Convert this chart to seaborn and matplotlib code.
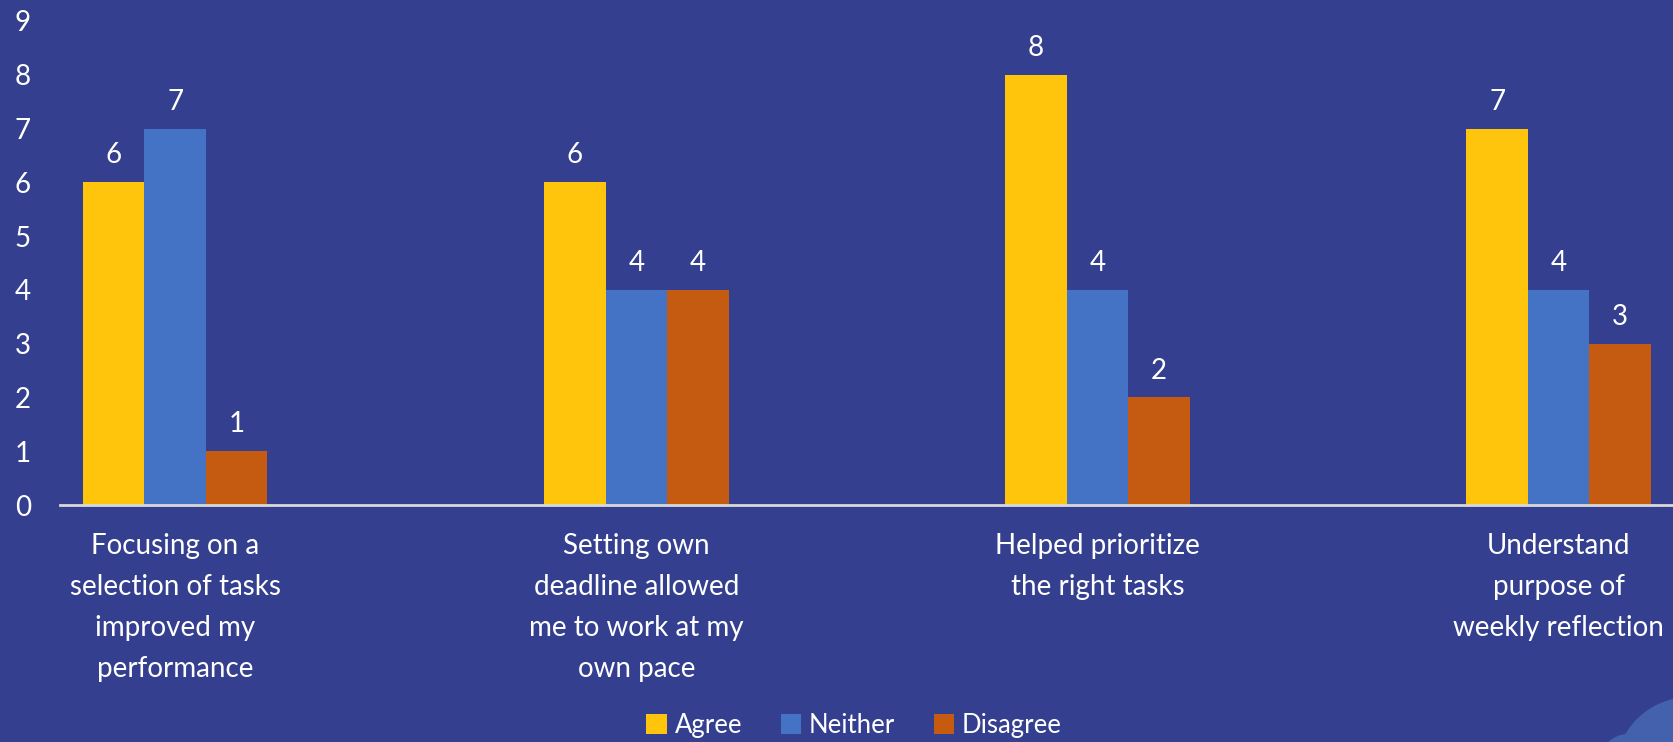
import matplotlib
matplotlib.use("Agg")
import matplotlib.pyplot as plt
from matplotlib.patches import Ellipse
import seaborn as sns
import pandas as pd

categories = [
    "Focusing on a\nselection of tasks\nimproved my\nperformance",
    "Setting own\ndeadline allowed\nme to work at my\nown pace",
    "Helped prioritize\nthe right tasks",
    "Understand\npurpose of\nweekly reflection",
]
series_names = ["Agree", "Neither", "Disagree"]
agree = [6, 6, 8, 7]
neither = [7, 4, 4, 4]
disagree = [1, 4, 2, 3]
y_ticks = [0, 1, 2, 3, 4, 5, 6, 7, 8, 9]

BG = "#343F8F"
colors = ["#FFC40C", "#4472C4", "#C55A11"]

rows = []
for name, vals in zip(series_names, [agree, neither, disagree]):
    for c, v in zip(categories, vals):
        rows.append({"category": c, "series": name, "value": v})
df = pd.DataFrame(rows)

sns.set_theme(style="white")
plt.rcParams["font.family"] = ["Lato", "DejaVu Sans"]

W, H = 1674, 742
fig = plt.figure(figsize=(W / 100, H / 100), dpi=100, facecolor=BG)

# slide decoration in bottom-right corner
for cx, cy, r in [(1690, -30, 75), (1628, -20, 28)]:
    fig.patches.append(Ellipse((cx / W, cy / H), 2 * r / W, 2 * r / H,
                               transform=fig.transFigure, facecolor="#4361AD",
                               edgecolor="none", zorder=0))

ax = fig.add_axes([0.0358, 0.3194, 0.9642, 0.6523])
ax.set_facecolor(BG)
ax.patch.set_alpha(0)

sns.barplot(data=df, x="category", y="value", hue="series",
            palette=colors, width=0.4, gap=0, saturation=1,
            edgecolor="none", linewidth=0, ax=ax, legend=True)

for cont in ax.containers:
    ax.bar_label(cont, padding=10, color="white", fontsize=20)

ax.set_xlim(-0.25, 3.25)
ax.set_ylim(0, 9)
ax.set_yticks(y_ticks)
ax.set_xlabel("")
ax.set_ylabel("")

for s in ["top", "right", "left"]:
    ax.spines[s].set_visible(False)
ax.spines["bottom"].set_color("#D9D9D9")
ax.spines["bottom"].set_linewidth(2)

ax.tick_params(axis="y", length=0, colors="white", labelsize=20, pad=21)
ax.tick_params(axis="x", length=0, colors="white", labelsize=20, pad=20)
for lab in ax.get_xticklabels():
    lab.set_linespacing(1.72)
    lab.set_verticalalignment("top")

leg = ax.legend(loc="center", bbox_to_anchor=(0.492, -0.455), ncol=3,
                frameon=False, fontsize=18.5, handlelength=0.8, handleheight=0.8,
                handletextpad=0.3, columnspacing=1.5)
for t in leg.get_texts():
    t.set_color("white")

fig.savefig("out.png", dpi=100, facecolor=BG)
